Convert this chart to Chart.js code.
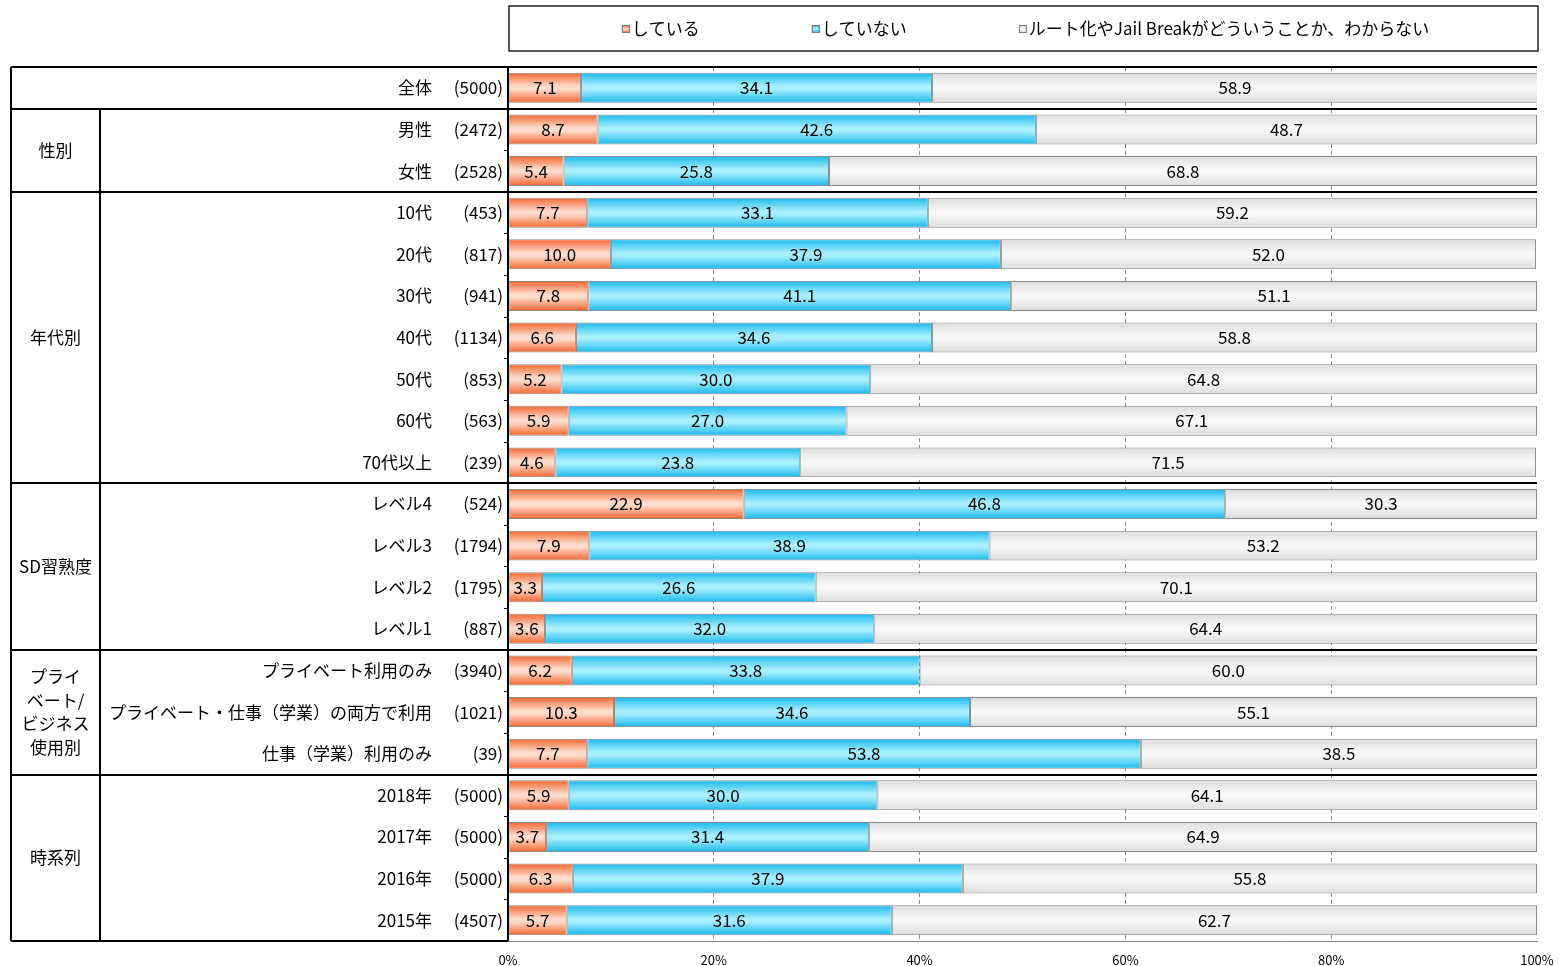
<!DOCTYPE html>
<html>
<head>
<meta charset="utf-8">
<script src="https://cdn.jsdelivr.net/npm/chart.js@4.4.1/dist/chart.umd.min.js"></script>
<style>
  html, body { margin: 0; padding: 0; background: #fff; }
</style>
</head>
<body>
<canvas id="rootChart" width="1559" height="966"></canvas>
<script>
// ### DATA ###
const categories = ["全体", "男性", "女性", "10代", "20代", "30代", "40代", "50代", "60代", "70代以上",
  "レベル4", "レベル3", "レベル2", "レベル1",
  "プライベート利用のみ", "プライベート・仕事（学業）の両方で利用", "仕事（学業）利用のみ",
  "2018年", "2017年", "2016年", "2015年"];
const counts = [5000, 2472, 2528, 453, 817, 941, 1134, 853, 563, 239, 524, 1794, 1795, 887, 3940, 1021, 39, 5000, 5000, 5000, 4507];
const doing = [7.1, 8.7, 5.4, 7.7, 10.0, 7.8, 6.6, 5.2, 5.9, 4.6, 22.9, 7.9, 3.3, 3.6, 6.2, 10.3, 7.7, 5.9, 3.7, 6.3, 5.7];
const notDoing = [34.1, 42.6, 25.8, 33.1, 37.9, 41.1, 34.6, 30.0, 27.0, 23.8, 46.8, 38.9, 26.6, 32.0, 33.8, 34.6, 53.8, 30.0, 31.4, 37.9, 31.6];
const unknown = [58.9, 48.7, 68.8, 59.2, 52.0, 51.1, 58.8, 64.8, 67.1, 71.5, 30.3, 53.2, 70.1, 64.4, 60.0, 55.1, 38.5, 64.1, 64.9, 55.8, 62.7];
const seriesNames = ["している", "していない", "ルート化やJail Breakがどういうことか、わからない"];
const xTicks = [0, 20, 40, 60, 80, 100];

// group column: label lines + first/last category index
const groupLines = [[], ["性別"], ["年代別"], ["SD習熟度"], ["プライ", "ベート/", "ビジネス", "使用別"], ["時系列"]];
const groupFrom = [0, 1, 3, 10, 14, 17];
const groupTo = [0, 2, 9, 13, 16, 20];

const FONT = '"Noto Sans CJK JP", "Noto Sans", sans-serif';
const BAR_PCT = 0.72;
const TABLE_LEFT = 11;
const GROUP_COL = 100;

// gradient stops: edge, middle
const orangeStops = ["#f2652f", "#fddccb"];
const blueStops = ["#1ab9ec", "#a8efff"];
const grayStops = ["#dcdcdc", "#f8f8f8"];

function barFill(stops) {
  return (c) => {
    const chart = c.chart;
    const y = chart.scales.y;
    if (!y || c.type !== "data") return stops[1];
    const step = y.getPixelForValue(1) - y.getPixelForValue(0);
    const yc = y.getPixelForValue(c.dataIndex);
    if (!isFinite(step) || !isFinite(yc) || step === 0) return stops[1];
    const h = Math.abs(step) * BAR_PCT;
    const g = chart.ctx.createLinearGradient(0, yc - h / 2, 0, yc + h / 2);
    g.addColorStop(0, stops[0]);
    g.addColorStop(0.45, stops[1]);
    g.addColorStop(0.55, stops[1]);
    g.addColorStop(1, stops[0]);
    return g;
  };
}

function legendMarker(ctx, x, y, stops) {
  const g = ctx.createLinearGradient(0, y - 4, 0, y + 4);
  g.addColorStop(0, stops[0]);
  g.addColorStop(0.5, stops[1]);
  g.addColorStop(1, stops[0]);
  ctx.fillStyle = g;
  ctx.fillRect(x, y - 4, 8, 8);
  ctx.strokeStyle = "#777";
  ctx.lineWidth = 1;
  ctx.strokeRect(x + 0.5, y - 3.5, 7, 7);
}

// ### PLUGIN: data labels, left table, legend ###
const tablePlugin = {
  id: "tablePlugin",
  afterDatasetsDraw(chart) {
    const ctx = chart.ctx;
    ctx.save();
    ctx.font = "17px " + FONT;
    ctx.fillStyle = "#000";
    ctx.textAlign = "center";
    ctx.textBaseline = "middle";
    chart.data.datasets.forEach((ds, di) => {
      chart.getDatasetMeta(di).data.forEach((el, i) => {
        const p = el.getProps(["x", "base", "y"], true);
        ctx.fillText(ds.data[i].toFixed(1), (p.x + p.base) / 2, p.y);
      });
    });
    ctx.restore();
  },
  afterDraw(chart) {
    const ctx = chart.ctx;
    const a = chart.chartArea;
    const y = chart.scales.y;
    const step = y.getPixelForValue(1) - y.getPixelForValue(0);
    const edge = (i) => y.getPixelForValue(i) - step / 2;

    ctx.save();

    // row labels and counts
    ctx.font = "17px " + FONT;
    ctx.fillStyle = "#000";
    ctx.textBaseline = "middle";
    ctx.textAlign = "right";
    categories.forEach((cat, i) => {
      const yc = y.getPixelForValue(i);
      ctx.fillText(cat, 432, yc);
      ctx.fillText("(" + counts[i] + ")", 503, yc);
    });

    // group labels
    ctx.textAlign = "center";
    groupLines.forEach((lines, gi) => {
      if (!lines.length) return;
      const mid = (edge(groupFrom[gi]) + edge(groupTo[gi] + 1)) / 2;
      const lh = 23.5;
      lines.forEach((t, li) => {
        ctx.fillText(t, (TABLE_LEFT + GROUP_COL) / 2, mid + (li - (lines.length - 1) / 2) * lh);
      });
    });

    // small ticks left of the axis
    ctx.strokeStyle = "#000";
    ctx.lineWidth = 1;
    for (let i = 0; i <= categories.length; i++) {
      const yy = Math.round(edge(i)) + 0.5;
      ctx.beginPath();
      ctx.moveTo(a.left - 4, yy);
      ctx.lineTo(a.left, yy);
      ctx.stroke();
    }

    // table lines
    ctx.lineWidth = 2;
    ctx.beginPath();
    ctx.moveTo(TABLE_LEFT, a.top);
    ctx.lineTo(a.right, a.top);
    ctx.moveTo(TABLE_LEFT, a.bottom);
    ctx.lineTo(a.left, a.bottom);
    ctx.moveTo(TABLE_LEFT, a.top);
    ctx.lineTo(TABLE_LEFT, a.bottom);
    ctx.moveTo(a.left, a.top);
    ctx.lineTo(a.left, a.bottom);
    ctx.moveTo(GROUP_COL, edge(1));
    ctx.lineTo(GROUP_COL, a.bottom);
    groupFrom.slice(1).forEach((gf) => {
      const yy = Math.round(edge(gf));
      ctx.moveTo(TABLE_LEFT, yy);
      ctx.lineTo(a.right, yy);
    });
    ctx.stroke();

    // legend box
    ctx.lineWidth = 1.5;
    ctx.strokeStyle = "#222";
    ctx.strokeRect(a.left + 1, 6, a.right - a.left, 45);
    ctx.font = "17px " + FONT;
    ctx.textAlign = "left";
    const stops = [orangeStops, blueStops, grayStops];
    const gap = 110;
    const widths = seriesNames.map((n) => 12 + ctx.measureText(n).width);
    const total = widths.reduce((s, w) => s + w, 0) + gap * (widths.length - 1);
    let lx = (a.left + a.right) / 2 - total / 2 + 4;
    seriesNames.forEach((n, i) => {
      legendMarker(ctx, lx, 29, stops[i]);
      ctx.fillStyle = "#000";
      ctx.fillText(n, lx + 10, 29);
      lx += widths[i] + gap;
    });

    ctx.restore();
  }
};

// ### CHART ###
const rootChart = new Chart(document.querySelector("#rootChart"), {
  type: "bar",
  data: {
    labels: categories,
    datasets: [
      { label: seriesNames[0], data: doing, backgroundColor: barFill(orangeStops) },
      { label: seriesNames[1], data: notDoing, backgroundColor: barFill(blueStops) },
      { label: seriesNames[2], data: unknown, backgroundColor: barFill(grayStops) }
    ]
  },
  options: {
    indexAxis: "y",
    responsive: false,
    animation: false,
    layout: { padding: { left: 508, right: 22, top: 67, bottom: 0 } },
    datasets: {
      bar: {
        borderColor: "#8a8a8a",
        borderWidth: 1,
        borderSkipped: false,
        barPercentage: BAR_PCT,
        categoryPercentage: 1
      }
    },
    scales: {
      x: {
        stacked: true,
        min: 0,
        max: 100,
        afterFit: (s) => {
          s.height = 25;
          s.paddingLeft = 0;
          s.paddingRight = 0;
        },
        afterBuildTicks: (s) => { s.ticks = xTicks.map((v) => ({ value: v })); },
        ticks: {
          padding: 11,
          color: "#000",
          font: { size: 13, family: FONT },
          callback: (v) => v + "%"
        },
        grid: {
          color: (c) => (c.tick && (c.tick.value === 0 || c.tick.value === 100) ? "rgba(0,0,0,0)" : "#8a8a8a"),
          drawTicks: false,
          tickBorderDash: [4, 3]
        },
        border: { display: true, color: "#8a8a8a", dash: [4, 3] }
      },
      y: {
        stacked: true,
        display: false
      }
    },
    plugins: {
      legend: { display: false },
      tooltip: { enabled: false }
    }
  },
  plugins: [tablePlugin]
});
</script>
</body>
</html>
